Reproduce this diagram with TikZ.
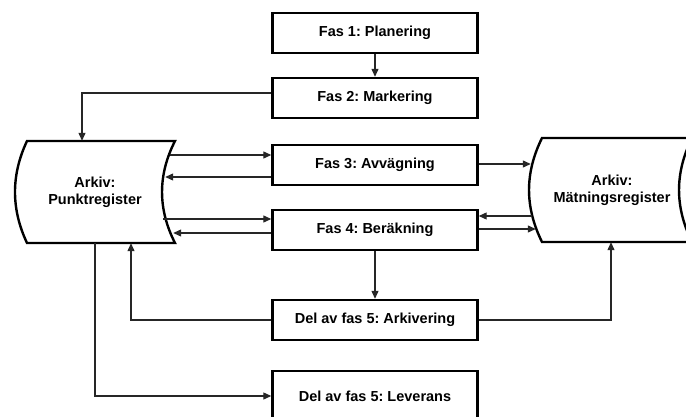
\documentclass[tikz,border=0pt]{standalone}
\usepackage{fontspec}
\setmainfont{Liberation Sans}
\frenchspacing
\usetikzlibrary{arrows.meta, calc, positioning}
\tikzset{> = { Triangle[length = 8pt, width = 7pt] }}
\tikzset{
	phase/.style = {draw, line width = 2.4pt, minimum width = 205pt, minimum height = 40pt, inner sep = 0pt, font = \fontsize{14.5}{17}\selectfont\bfseries},
	archive/.style = {inner sep = 0pt, align = center, font = \fontsize{14.5}{17}\selectfont\bfseries},
	outline/.style = {line width = 2.4pt, line join = miter},
	link/.style = {line width = 1.2pt, color = black!85}
}

\begin{document}
\begin{tikzpicture}[x = 1pt, y = -1pt]
		\clip (0, 0) rectangle (686, 417);

		\node [phase] (fas1) at (375, 33) {Fas 1: Planering};
		\node [phase] (fas2) at (375, 98) {Fas 2: Markering};
		\node [phase] (fas3) at (375, 165) {Fas 3: Avvägning};
		\node [phase] (fas4) at (375, 230) {Fas 4: Beräkning};
		\node [phase] (ark) at (375, 320) {Del av fas 5: Arkivering};
		\node [phase, minimum height = 50pt] (lev) at (375, 396) {Del av fas 5: Leverans};

		\node [archive, minimum width = 136pt, minimum height = 102pt] (punkt) at (95, 192) {Arkiv:\\Punktregister};
		\node [archive, minimum width = 140pt, minimum height = 104pt] (matn) at (612, 190) {Arkiv:\\Mätningsregister};

		% archive outlines
		\draw [outline] (27, 141) -- (175, 141) .. controls (157.7, 175) and (157.7, 209) .. (175, 243)
			-- (27, 243) .. controls (11, 209) and (11, 175) .. cycle;
		\draw [outline] (542, 138) -- (692, 138) .. controls (674.7, 173) and (674.7, 207) .. (692, 242)
			-- (542, 242) .. controls (524.7, 207) and (524.7, 173) .. cycle;

		\draw [link, ->] (fas1) -- (fas2);
		\draw [link, ->] ($(fas2.west) + (0, -5)$) -| ($(punkt.north) + (-13, 0)$);

		\draw [link, ->] ($(punkt.east) + (7, -37)$) -- ($(fas3.west) + (0, -10)$);
		\draw [link, ->] ($(fas3.west) + (0, 12)$) -- ($(punkt.east) + (2, -15)$);
		\draw [link, ->] ($(punkt.east) + (0, 27)$) -- ($(fas4.west) + (0, -11)$);
		\draw [link, ->] ($(fas4.west) + (0, 3)$) -- ($(punkt.east) + (10, 41)$);

		\draw [link, ->] ($(fas3.east) + (0, -1)$) -- ($(matn.west) + (-11, -26)$);
		\draw [link, ->] ($(matn.west) + (-10, 26)$) -- ($(fas4.east) + (0, -14)$);
		\draw [link, ->] ($(fas4.east) + (0, -1)$) -- ($(matn.west) + (-6, 39)$);

		\draw [link, ->] (fas4) -- (ark);
		\draw [link, ->] (ark.west) -| ($(punkt.south) + (36, 0)$);
		\draw [link, ->] (ark.east) -| ($(matn.south) + (-1, 0)$);
		\draw [link, ->] (punkt.south) |- (lev.west);
	\end{tikzpicture}
\end{document}
